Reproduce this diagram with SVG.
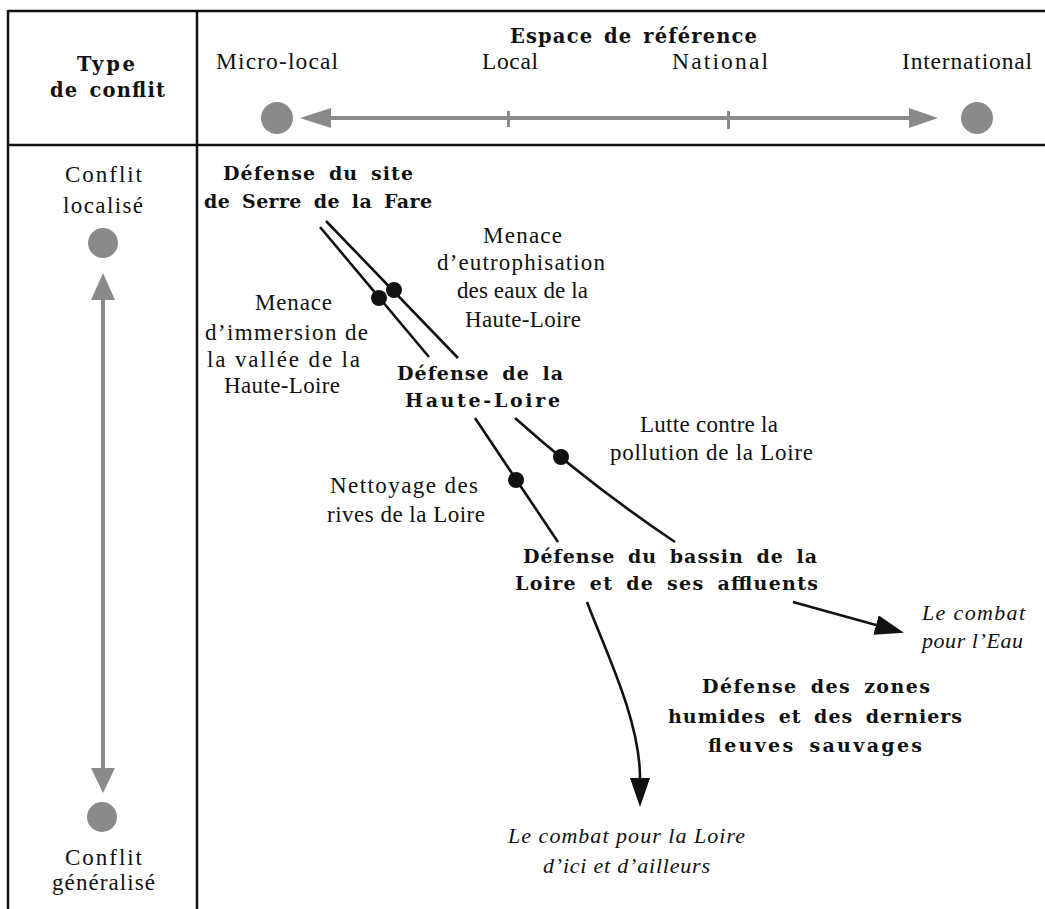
<svg xmlns="http://www.w3.org/2000/svg" width="1045" height="909" viewBox="0 0 1045 909">
<style>
text{font-family:"Liberation Serif","Times New Roman",serif;fill:#111}
.b{font-family:"DejaVu Serif","Liberation Serif",serif;font-weight:bold;font-size:19px;word-spacing:5px}
.h{font-family:"DejaVu Serif","Liberation Serif",serif;font-weight:bold;font-size:19.5px;word-spacing:3px}
.n{font-size:23px}
.hn{font-size:23.5px}
.i{font-size:22px;font-style:italic}
.frame{stroke:#111;stroke-width:2.5;fill:none}
.gray{fill:#8a8a8a}
.ln{stroke:#111;stroke-width:2.6;fill:none}
</style>
<defs>
<marker id="ah" markerUnits="userSpaceOnUse" markerWidth="30" markerHeight="22" refX="0" refY="10" orient="auto">
<path d="M0,0 L29,10 L0,20 z" fill="#111"/>
</marker>
</defs>
<rect width="1045" height="909" fill="#fff"/>

<g id="table">
<line class="frame" x1="8" y1="11" x2="1045" y2="11"/>
<line class="frame" x1="8" y1="145" x2="1045" y2="145"/>
<line class="frame" x1="8" y1="10" x2="8" y2="909"/>
<line class="frame" x1="197" y1="10" x2="197" y2="909"/>
</g>

<g id="header-type">
<text class="h" x="77" y="71" textLength="58" lengthAdjust="spacing">Type</text>
<text class="h" x="50" y="97" textLength="115" lengthAdjust="spacing">de conflit</text>
</g>

<g id="header-espace">
<text class="h" x="510" y="43" textLength="247" lengthAdjust="spacing">Espace de référence</text>
<text class="hn" x="216" y="69" textLength="122" lengthAdjust="spacing">Micro-local</text>
<text class="hn" x="482" y="69" textLength="56" lengthAdjust="spacing">Local</text>
<text class="hn" x="672" y="69" textLength="96" lengthAdjust="spacing">National</text>
<text class="hn" x="902" y="69" textLength="130" lengthAdjust="spacing">International</text>
</g>

<g id="axis-space">
<circle class="gray" cx="277" cy="118" r="16"/>
<circle class="gray" cx="977" cy="118" r="16"/>
<rect class="gray" x="328" y="116" width="584" height="4"/>
<polygon class="gray" points="300,118 331,108 331,128"/>
<polygon class="gray" points="938,118 909,108 909,128"/>
<rect class="gray" x="507" y="111" width="3" height="16"/>
<rect class="gray" x="727" y="111" width="3" height="18"/>
</g>

<g id="axis-conflict">
<text class="n" x="65" y="182" textLength="77" lengthAdjust="spacing">Conflit</text>
<text class="n" x="63" y="213" textLength="80" lengthAdjust="spacing">localisé</text>
<circle class="gray" cx="103" cy="243" r="15"/>
<polygon class="gray" points="103,273 91,300 115,300"/>
<rect class="gray" x="101" y="298" width="4" height="474"/>
<polygon class="gray" points="103,793 91,768 115,768"/>
<circle class="gray" cx="102" cy="817" r="15"/>
<text class="n" x="65" y="865" textLength="77" lengthAdjust="spacing">Conflit</text>
<text class="n" x="52" y="890" textLength="103" lengthAdjust="spacing">généralisé</text>
</g>

<g id="connectors">
<line class="ln" x1="320" y1="227" x2="429" y2="357"/>
<line class="ln" x1="326" y1="221" x2="458" y2="358"/>
<circle cx="379" cy="298" r="8" fill="#111"/>
<circle cx="394" cy="290" r="8" fill="#111"/>
<line class="ln" x1="475" y1="418" x2="558" y2="542"/>
<circle cx="516" cy="480" r="8" fill="#111"/>
<path class="ln" d="M515,418 Q590,485 675,542"/>
<circle cx="561" cy="457" r="8" fill="#111"/>
<line class="ln" x1="793" y1="602" x2="876" y2="625" marker-end="url(#ah)"/>
<path class="ln" d="M587,602 C605,650 640,720 640,778" marker-end="url(#ah)"/>
</g>

<g id="node-serre">
<text class="b" x="223" y="180" textLength="190" lengthAdjust="spacing">Défense du site</text>
<text class="b" x="204" y="208" textLength="228" lengthAdjust="spacing">de Serre de la Fare</text>
</g>

<g id="node-haute-loire">
<text class="b" x="397" y="380" textLength="166" lengthAdjust="spacing">Défense de la</text>
<text class="b" x="405" y="407" textLength="155" lengthAdjust="spacing">Haute-Loire</text>
</g>

<g id="node-bassin">
<text class="b" x="523" y="563" textLength="294" lengthAdjust="spacing">Défense du bassin de la</text>
<text class="b" x="515" y="590" textLength="303" lengthAdjust="spacing">Loire et de ses affluents</text>
</g>

<g id="node-zones-humides">
<text class="b" x="702" y="693" textLength="228" lengthAdjust="spacing">Défense des zones</text>
<text class="b" x="668" y="723" textLength="294" lengthAdjust="spacing">humides et des derniers</text>
<text class="b" x="708" y="752" textLength="214" lengthAdjust="spacing">fleuves sauvages</text>
</g>

<g id="label-immersion">
<text class="n" x="255" y="310" textLength="77" lengthAdjust="spacing">Menace</text>
<text class="n" x="205" y="340" textLength="163" lengthAdjust="spacing">d’immersion de</text>
<text class="n" x="207" y="367" textLength="153" lengthAdjust="spacing">la vallée de la</text>
<text class="n" x="224" y="393" textLength="116" lengthAdjust="spacing">Haute-Loire</text>
</g>

<g id="label-eutrophisation">
<text class="n" x="483" y="243" textLength="79" lengthAdjust="spacing">Menace</text>
<text class="n" x="437" y="270" textLength="168" lengthAdjust="spacing">d’eutrophisation</text>
<text class="n" x="457" y="298" textLength="131" lengthAdjust="spacing">des eaux de la</text>
<text class="n" x="465" y="327" textLength="116" lengthAdjust="spacing">Haute-Loire</text>
</g>

<g id="label-pollution">
<text class="n" x="640" y="432" textLength="138" lengthAdjust="spacing">Lutte contre la</text>
<text class="n" x="610" y="460" textLength="203" lengthAdjust="spacing">pollution de la Loire</text>
</g>

<g id="label-nettoyage">
<text class="n" x="330" y="493" textLength="148" lengthAdjust="spacing">Nettoyage des</text>
<text class="n" x="327" y="522" textLength="158" lengthAdjust="spacing">rives de la Loire</text>
</g>

<g id="node-combat-eau">
<text class="i" x="922" y="620" textLength="103" lengthAdjust="spacing">Le combat</text>
<text class="i" x="922" y="648" textLength="101" lengthAdjust="spacing">pour l’Eau</text>
</g>

<g id="node-combat-loire">
<text class="i" x="508" y="843" textLength="237" lengthAdjust="spacing">Le combat pour la Loire</text>
<text class="i" x="543" y="873" textLength="167" lengthAdjust="spacing">d’ici et d’ailleurs</text>
</g>
</svg>
